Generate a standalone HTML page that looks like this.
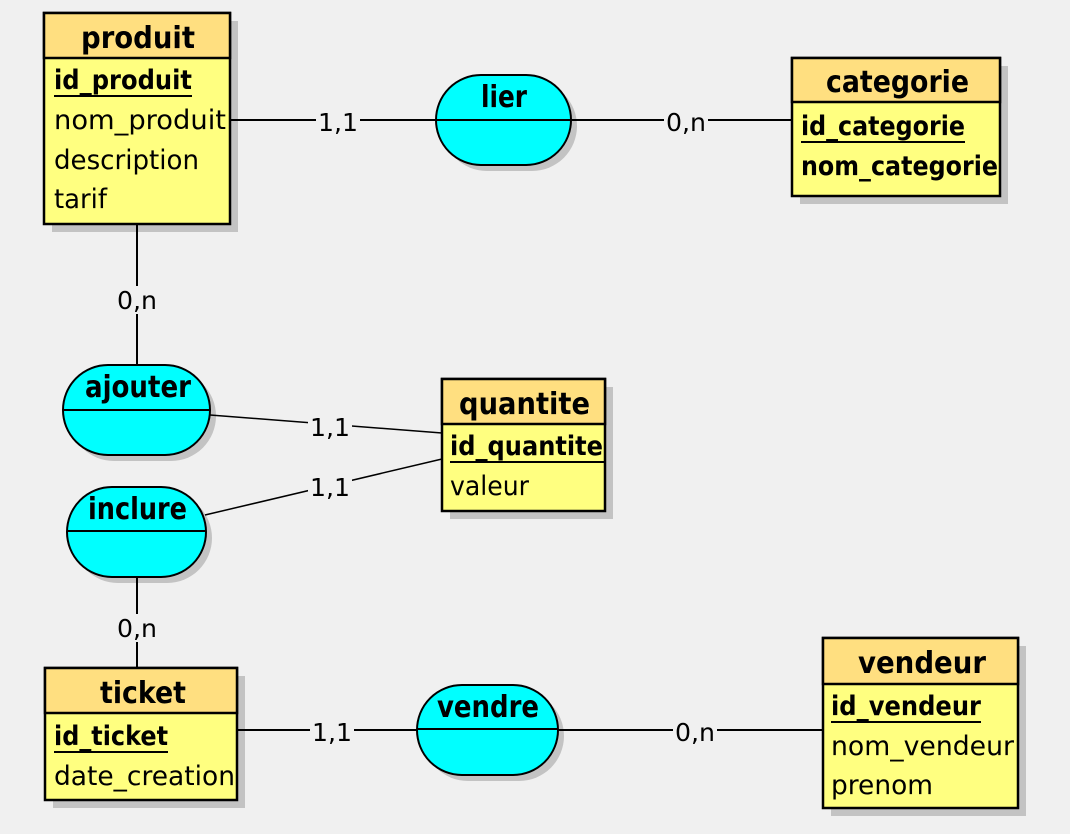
<!DOCTYPE html>
<html><head><meta charset="utf-8"><style>
html,body{margin:0;padding:0;background:#f0f0f0;}
svg{display:block;}
text{font-family:"DejaVu Sans","Liberation Sans",sans-serif;fill:#000;}
.h{font-weight:bold;font-size:30px;}
.a{font-size:27px;}
.b{font-size:27px;font-weight:bold;}
.l{font-size:25px;}
</style></head><body>
<svg width="1070" height="834" viewBox="0 0 1070 834" xmlns="http://www.w3.org/2000/svg">
<rect x="0" y="0" width="1070" height="834" fill="#f0f0f0"/>
<!-- shadows -->
<g fill="#c3c3c3">
<rect x="52" y="21" width="186" height="211"/>
<rect x="800" y="66" width="208" height="138"/>
<rect x="450" y="387" width="163" height="132"/>
<rect x="53" y="676" width="192" height="132"/>
<rect x="831" y="646" width="195" height="170"/>
<rect x="442" y="81" width="135" height="90" rx="45"/>
<rect x="69" y="371" width="147" height="90" rx="45"/>
<rect x="73" y="493" width="139" height="90" rx="45"/>
<rect x="423" y="691" width="141" height="90" rx="45"/>
</g>
<g stroke="#000" stroke-width="2" fill="none">
<line x1="230" y1="120" x2="436" y2="120"/>
<line x1="571" y1="120" x2="792" y2="120"/>
<line x1="137" y1="224" x2="137" y2="365"/>
<line x1="210" y1="415" x2="442" y2="433" stroke-width="1.5"/>
<line x1="205" y1="515" x2="442" y2="459" stroke-width="1.5"/>
<line x1="137" y1="577" x2="137" y2="668"/>
<line x1="237" y1="730" x2="417" y2="730"/>
<line x1="558" y1="730" x2="823" y2="730"/>
</g>
<g fill="#f0f0f0">
<rect x="316" y="106" width="44" height="28"/>
<rect x="664" y="106" width="44" height="28"/>
<rect x="115" y="286" width="44" height="28"/>
<rect x="308" y="413" width="44" height="28"/>
<rect x="308" y="473" width="44" height="28"/>
<rect x="115" y="614" width="44" height="28"/>
<rect x="310" y="716" width="44" height="28"/>
<rect x="673" y="716" width="44" height="28"/>
</g>
<g>
<text x="318" y="131" class="l" textLength="40" lengthAdjust="spacingAndGlyphs">1,1</text>
<text x="666" y="131" class="l" textLength="40" lengthAdjust="spacingAndGlyphs">0,n</text>
<text x="117" y="309" class="l" textLength="40" lengthAdjust="spacingAndGlyphs">0,n</text>
<text x="310" y="436" class="l" textLength="40" lengthAdjust="spacingAndGlyphs">1,1</text>
<text x="310" y="496" class="l" textLength="40" lengthAdjust="spacingAndGlyphs">1,1</text>
<text x="117" y="637" class="l" textLength="40" lengthAdjust="spacingAndGlyphs">0,n</text>
<text x="312" y="741" class="l" textLength="40" lengthAdjust="spacingAndGlyphs">1,1</text>
<text x="675" y="741" class="l" textLength="40" lengthAdjust="spacingAndGlyphs">0,n</text>
</g>
<!-- entities -->
<g stroke="#000" stroke-width="2.5">
<rect x="44" y="13" width="186" height="211" fill="#ffff80"/>
<rect x="44" y="13" width="186" height="45" fill="#ffdf80"/>
<rect x="792" y="58" width="208" height="138" fill="#ffff80"/>
<rect x="792" y="58" width="208" height="44" fill="#ffdf80"/>
<rect x="442" y="379" width="163" height="132" fill="#ffff80"/>
<rect x="442" y="379" width="163" height="45" fill="#ffdf80"/>
<rect x="45" y="668" width="192" height="132" fill="#ffff80"/>
<rect x="45" y="668" width="192" height="45" fill="#ffdf80"/>
<rect x="823" y="638" width="195" height="170" fill="#ffff80"/>
<rect x="823" y="638" width="195" height="46" fill="#ffdf80"/>
</g>
<g stroke="#000" stroke-width="2">
<rect x="436" y="75" width="135" height="90" rx="45" fill="#00ffff"/>
<line x1="436" y1="120" x2="571" y2="120"/>
<rect x="63" y="365" width="147" height="90" rx="45" fill="#00ffff"/>
<line x1="63" y1="410" x2="210" y2="410"/>
<rect x="67" y="487" width="139" height="90" rx="45" fill="#00ffff"/>
<line x1="67" y1="531" x2="206" y2="531"/>
<rect x="417" y="685" width="141" height="90" rx="45" fill="#00ffff"/>
<line x1="417" y1="729" x2="558" y2="729"/>
</g>
<g>
<text class="h" x="81" y="48" textLength="114" lengthAdjust="spacingAndGlyphs">produit</text>
<text class="h" x="826" y="92" textLength="143" lengthAdjust="spacingAndGlyphs">categorie</text>
<text class="h" x="459" y="414" textLength="131" lengthAdjust="spacingAndGlyphs">quantite</text>
<text class="h" x="100" y="703" textLength="86" lengthAdjust="spacingAndGlyphs">ticket</text>
<text class="h" x="858" y="673" textLength="128" lengthAdjust="spacingAndGlyphs">vendeur</text>
<text class="h" x="481" y="107" textLength="46" lengthAdjust="spacingAndGlyphs">lier</text>
<text class="h" x="85" y="397" textLength="106" lengthAdjust="spacingAndGlyphs">ajouter</text>
<text class="h" x="88" y="519" textLength="99" lengthAdjust="spacingAndGlyphs">inclure</text>
<text class="h" x="437" y="717" textLength="102" lengthAdjust="spacingAndGlyphs">vendre</text>

<text class="b" x="54" y="89" textLength="138" lengthAdjust="spacingAndGlyphs">id_produit</text>
<text class="a" x="54" y="129" textLength="172" lengthAdjust="spacingAndGlyphs">nom_produit</text>
<text class="a" x="54" y="169" textLength="145" lengthAdjust="spacingAndGlyphs">description</text>
<text class="a" x="54" y="208" textLength="53" lengthAdjust="spacingAndGlyphs">tarif</text>

<text class="b" x="801" y="135" textLength="164" lengthAdjust="spacingAndGlyphs">id_categorie</text>
<text class="b" x="801" y="175" textLength="197" lengthAdjust="spacingAndGlyphs">nom_categorie</text>

<text class="b" x="450" y="455" textLength="153" lengthAdjust="spacingAndGlyphs">id_quantite</text>
<text class="a" x="450" y="495" textLength="79" lengthAdjust="spacingAndGlyphs">valeur</text>

<text class="b" x="54" y="745" textLength="114" lengthAdjust="spacingAndGlyphs">id_ticket</text>
<text class="a" x="54" y="785" textLength="181" lengthAdjust="spacingAndGlyphs">date_creation</text>

<text class="b" x="831" y="715" textLength="150" lengthAdjust="spacingAndGlyphs">id_vendeur</text>
<text class="a" x="831" y="755" textLength="183" lengthAdjust="spacingAndGlyphs">nom_vendeur</text>
<text class="a" x="831" y="794" textLength="102" lengthAdjust="spacingAndGlyphs">prenom</text>
</g>
<g stroke="#000" stroke-width="2">
<line x1="54" y1="96" x2="192" y2="96"/>
<line x1="801" y1="142" x2="965" y2="142"/>
<line x1="450" y1="462" x2="604" y2="462"/>
<line x1="54" y1="752" x2="168" y2="752"/>
<line x1="831" y1="722" x2="981" y2="722"/>
</g>
</svg>
</body></html>
